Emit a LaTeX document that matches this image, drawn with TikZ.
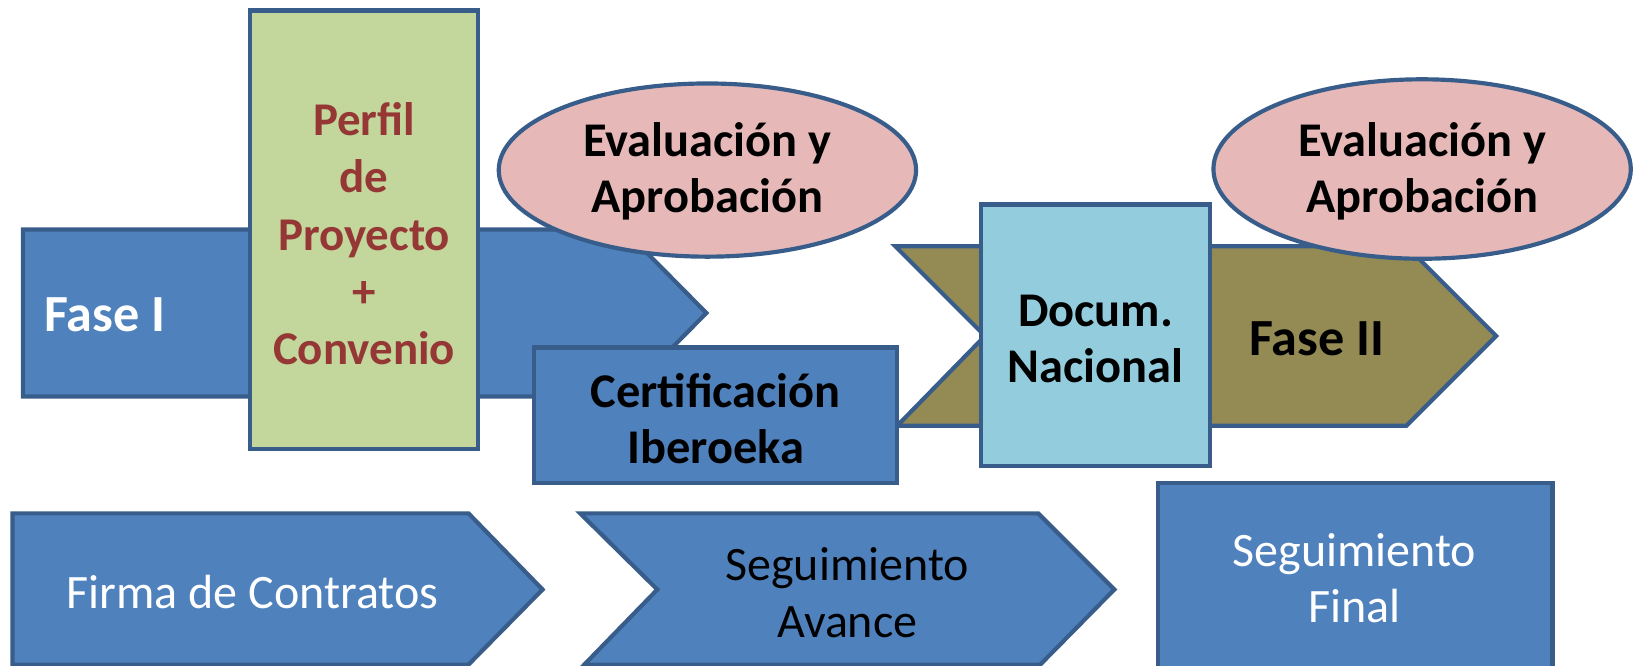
\documentclass[tikz,border=0pt]{standalone}
\usepackage{fontspec}
\setmainfont{Carlito}
\usetikzlibrary{shapes.geometric}
\definecolor{bluefill}{HTML}{4F81BD}
\definecolor{blueline}{HTML}{385D8A}
\definecolor{greenfill}{HTML}{C3D69B}
\definecolor{redtext}{HTML}{953735}
\definecolor{pinkfill}{HTML}{E6B9B8}
\definecolor{cyanfill}{HTML}{93CDDD}
\definecolor{olivefill}{HTML}{948A54}
\begin{document}
\begin{tikzpicture}[x=0.5pt,y=-0.5pt,
  outl/.style={draw=blueline, line width=2pt},
  bluesh/.style={outl, fill=bluefill},
  boldtxt/.style={font=\fontsize{23.2}{27}\selectfont\bfseries, align=center, inner sep=0pt},
  bigtxt/.style={font=\fontsize{25}{30}\selectfont\bfseries, inner sep=0pt},
  plaintxt/.style={font=\fontsize{23}{27}\selectfont, align=center, inner sep=0pt}]
\useasboundingbox (0,0) rectangle (1568,638);
% Fase I arrow
\draw[bluesh] (22,220) -- (598,220) -- (677,300) -- (598,380) -- (22,380) -- cycle;
% Perfil box
\draw[outl, fill=greenfill] (240,10) rectangle (458,430);
% Ellipse 1
\draw[outl, fill=pinkfill] (678,163) ellipse [x radius=200, y radius=83];
% Fase II chevron
\draw[outl, fill=olivefill] (858,236) -- (1348,236) -- (1434,322) -- (1348,408) -- (860,408) -- (944,322) -- cycle;
% Certificacion box
\draw[bluesh] (512,333) rectangle (860,463);
% Docum box
\draw[outl, fill=cyanfill] (940,196) rectangle (1160,447);
% Ellipse 2
\draw[outl, fill=pinkfill] (1363,162) ellipse [x radius=200, y radius=86];
% bottom row
\draw[bluesh] (12,492) -- (449,492) -- (520,565) -- (449,637) -- (12,637) -- cycle;
\draw[bluesh] (556,492) -- (995,492) -- (1068,565) -- (997,637) -- (560,637) -- (630,565) -- cycle;
\draw[bluesh] (1110,463) rectangle (1488,640);
% texts
\node[bigtxt, text=white, anchor=west] (fase1) at (42,302) {Fase I};
\node[boldtxt, text=redtext, font=\fontsize{22.5}{27.5}\selectfont\bfseries] (perfil) at (349,224) {Perfil\\de\\Proyecto\\+\\Convenio};
\node[boldtxt] (eval1) at (678,164) {Evaluación y\\Aprobación};
\node[boldtxt] (cert) at (686,401) {Certificación\\Iberoeka};
\node[boldtxt] (docum) at (1050,325) {Docum.\\Nacional};
\node[bigtxt, anchor=west] (fase2) at (1197,325) {Fase II};
\node[boldtxt] (eval2) at (1363,164) {Evaluación y\\Aprobación};
\node[plaintxt, text=white] (firma) at (242,567) {Firma de Contratos};
\node[plaintxt] (segav) at (812,568) {Seguimiento\\Avance};
\node[plaintxt, text=white] (segfin) at (1298,554) {Seguimiento\\Final};
\end{tikzpicture}
\end{document}
